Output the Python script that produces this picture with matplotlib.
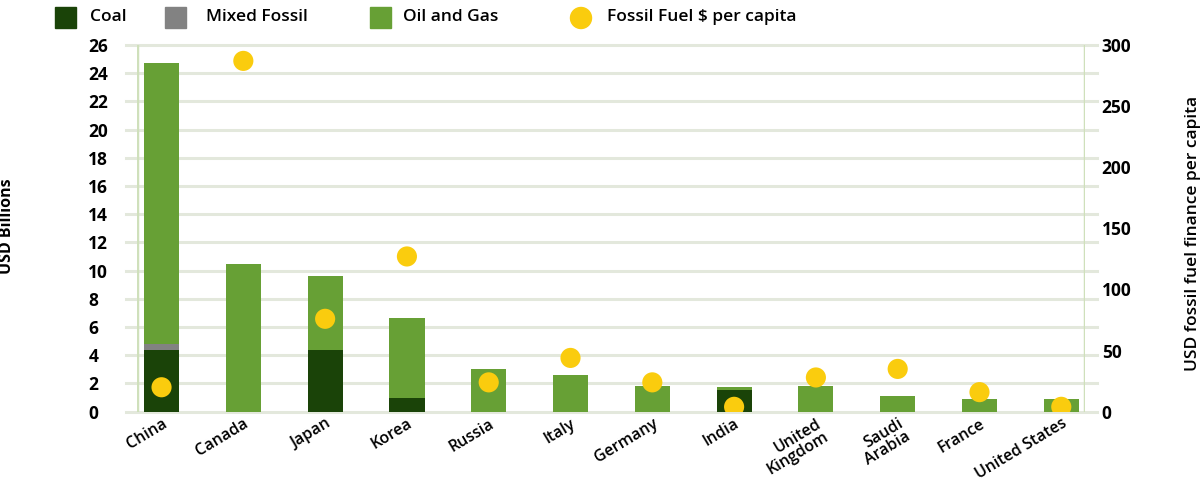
import matplotlib
matplotlib.use("Agg")
import matplotlib.pyplot as plt
from matplotlib.patches import Rectangle, Ellipse
import numpy as np

countries = ["China", "Canada", "Japan", "Korea", "Russia", "Italy", "Germany",
             "India", "United\nKingdom", "Saudi\nArabia", "France", "United States"]
coal = [4.4, 0, 4.4, 1.0, 0, 0, 0, 1.55, 0, 0, 0, 0]
mixed = [0.4, 0, 0, 0, 0, 0, 0, 0, 0, 0, 0, 0]
oil_gas = [19.9, 10.5, 5.2, 5.65, 3.0, 2.6, 1.8, 0.2, 1.8, 1.1, 0.9, 0.9]
per_capita = [20, 287, 76, 127, 24, 44, 24, 4, 28, 35, 16, 4]
left_ticks = list(range(0, 27, 2))
right_ticks = list(range(0, 301, 50))

C_COAL = "#1a4308"
C_MIXED = "#828282"
C_OIL = "#67a035"
C_DOT = "#facc0e"
GRID = "#e3e8dc"
VLINE = "#cfe0bb"

FONT = "Open Sans"

fig = plt.figure(figsize=(12.03, 4.83), dpi=100)
ax = fig.add_axes([137/1203, 1-411.7/483, (1085-137)/1203, (411.7-45)/483])
ax2 = ax.twinx()

x = np.arange(len(countries))
w = 0.43
coal_a = np.array(coal); mixed_a = np.array(mixed); oil_a = np.array(oil_gas)
ax.bar(x, coal_a, w, color=C_COAL, zorder=3)
ax.bar(x, mixed_a, w, bottom=coal_a, color=C_MIXED, zorder=3)
ax.bar(x, oil_a, w, bottom=coal_a + mixed_a, color=C_OIL, zorder=3)

ax.set_xlim(-0.3, 11.29)
ax.set_ylim(0, 26)
ax2.set_ylim(0, 300)

for t in left_ticks:
    ax.axhline(t, xmin=-0.012, xmax=1.013, color=GRID, lw=2.2, zorder=1, clip_on=False)

ax2.scatter(x, per_capita, s=210, color=C_DOT, zorder=5, edgecolors="none")

for a in (ax, ax2):
    for s in a.spines.values():
        s.set_visible(False)

ax.axvline(-0.3, color=VLINE, lw=2.5, zorder=2)
ax.axvline(11.29, color=VLINE, lw=2.5, zorder=2)

ax.set_yticks(left_ticks)
ax.set_yticklabels([str(t) for t in left_ticks], fontfamily=FONT,
                   fontweight="bold", fontsize=12.5, ha="left")
ax.tick_params(axis="y", length=0, pad=35)
ax2.set_yticks(right_ticks)
ax2.set_yticklabels([str(t) for t in right_ticks], fontfamily=FONT,
                    fontweight="bold", fontsize=12.5)
ax2.tick_params(axis="y", length=0, pad=12)

ax.set_xticks(x)
ax.set_xticklabels(countries, rotation=31, ha="right", rotation_mode="anchor",
                   fontweight="semibold", fontsize=11.5, fontfamily=FONT,
                   linespacing=0.9)
ax.tick_params(axis="x", length=0, pad=3)

fig.text(7/1203, 1-226/483, "USD Billions", rotation=90, va="center", ha="center",
         fontfamily=FONT, fontweight="bold", fontsize=11.5)
fig.text(1193/1203, 1-233/483, "USD fossil fuel finance per capita", rotation=90,
         va="center", ha="center", fontfamily=FONT, fontweight="semibold", fontsize=12.5)

# legend
ly = 1-17/483
sq = 21
for px, col in [(55, C_COAL), (165, C_MIXED), (370, C_OIL)]:
    fig.add_artist(Rectangle((px/1203, ly - sq/2/483), sq/1203, sq/483,
                             transform=fig.transFigure, color=col))
fig.add_artist(Ellipse((581/1203, ly - 1/483), 21/1203, 21/483,
                       transform=fig.transFigure, color=C_DOT))
for px, txt in [(90, "Coal"), (206, "Mixed Fossil"), (403, "Oil and Gas"),
                (607, "Fossil Fuel $ per capita")]:
    fig.text(px/1203, ly, txt, va="center", ha="left", fontfamily=FONT,
             fontweight="semibold", fontsize=12.5)

fig.savefig("out.png", dpi=100)
